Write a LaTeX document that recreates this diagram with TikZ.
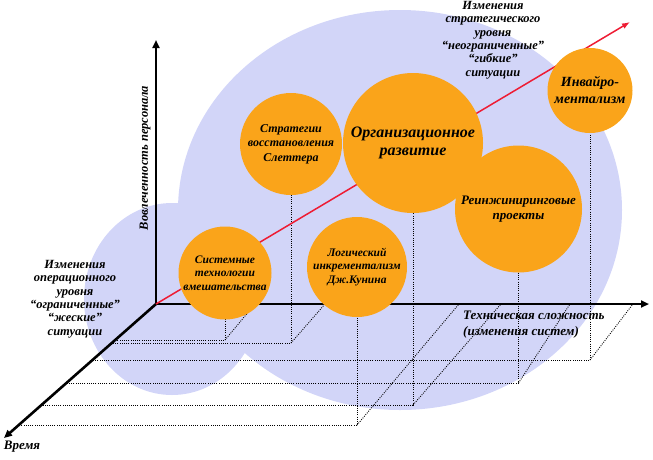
\documentclass[tikz,border=0pt]{standalone}
\usepackage{fontspec}
\setmainfont{Liberation Serif}
\usetikzlibrary{arrows.meta}
\definecolor{blobblue}{RGB}{210,213,248}
\definecolor{stageorange}{RGB}{250,164,26}
\definecolor{trendred}{RGB}{238,28,52}

\begin{document}
\begin{tikzpicture}[x=1pt, y=-1pt,
  blob/.style={fill=blobblue, draw=none},
  stage/.style={circle, fill=stageorange, draw=none, inner sep=0pt, align=center,
                font=\bfseries\itshape\fontsize{11.5}{13.6}\selectfont},
  lbl/.style={inner sep=0pt, align=center, font=\bfseries\itshape\fontsize{12.5}{13.4}\selectfont},
  axis/.style={line width=2.6pt, -{Triangle[length=8pt,width=7pt]}},
  trend/.style={line width=1.5pt, trendred, -{Latex[length=8pt,width=6pt]}},
  proj/.style={line width=0.9pt, dash pattern=on 0.9pt off 1.3pt}
]
  \useasboundingbox (0,0) rectangle (653,459);

  % background clouds
  \fill[blob] (400,210) ellipse [x radius=222, y radius=200];
  \fill[blob] (172,299) ellipse [x radius=88, y radius=96];

  % axes
  \coordinate (O)    at (156,304);
  \coordinate (ytip) at (156,40);
  \coordinate (xtip) at (649,304);
  \coordinate (ttip) at (4,438);
  \coordinate (rtip) at (630,22);

  % circle centres
  \coordinate (sysC)   at (225,273);
  \coordinate (sletC)  at (291,144);
  \coordinate (orgC)   at (413,143);
  \coordinate (kunC)   at (357,267);
  \coordinate (reengC) at (518.5,209);
  \coordinate (envC)   at (590,90.5);

  % floor points, time axis points, x axis points
  \coordinate (sysF)   at (225,340);   \coordinate (sysT)   at (115,340);  \coordinate (sysA)   at (255,304);
  \coordinate (sletF)  at (291,343);   \coordinate (sletT)  at (112,343);  \coordinate (sletA)  at (325,304);
  \coordinate (kunF)   at (357,425);   \coordinate (kunT)   at (19,425);   \coordinate (kunA)   at (459,304);
  \coordinate (orgF)   at (413,405);   \coordinate (orgT)   at (41,405);   \coordinate (orgA)   at (501,304);
  \coordinate (reengF) at (518.5,383); \coordinate (reengT) at (66,383);   \coordinate (reengA) at (570,304);
  \coordinate (envF)   at (590,360);   \coordinate (envT)   at (92,360);   \coordinate (envA)   at (633,304);

  \draw[proj] (sysC) -- (sysF) -- (sysT);       \draw[proj] (sysF) -- (sysA);
  \draw[proj] (sletC) -- (sletF) -- (sletT);    \draw[proj] (sletF) -- (sletA);
  \draw[proj] (kunC) -- (kunF) -- (kunT);       \draw[proj] (kunF) -- (kunA);
  \draw[proj] (orgC) -- (orgF) -- (orgT);       \draw[proj] (orgF) -- (orgA);
  \draw[proj] (reengC) -- (reengF) -- (reengT); \draw[proj] (reengF) -- (reengA);
  \draw[proj] (envC) -- (envF) -- (envT);       \draw[proj] (envF) -- (envA);

  \draw[axis] (O) -- (ytip);
  \draw[axis] (O) -- (xtip);
  \draw[axis] (O) -- (ttip);
  \draw[trend] (O) -- (rtip);

  % stages
  \node[stage, minimum size=93pt]  (sys)   at (sysC)   {Системные\\технологии\\вмешательства};
  \node[stage, minimum size=102pt, font=\bfseries\itshape\fontsize{12}{14.3}\selectfont]
       (slet)  at (sletC)  {Стратегии\\восстановления\\Слеттера};
  \node[stage, minimum size=140pt, font=\bfseries\itshape\fontsize{16}{18}\selectfont]
       (org)   at (orgC)   {Организационное\\развитие};
  \node[stage, minimum size=100pt, font=\bfseries\itshape\fontsize{11.5}{13.3}\selectfont]
       (kun)   at (kunC)   {Логический\\инкрементализм\\Дж.Кунина};
  \node[stage, minimum size=127pt, font=\bfseries\itshape\fontsize{13}{15}\selectfont]
       (reeng) at (reengC) {Реинжиниринговые\\проекты};
  \node[stage, minimum size=85pt, font=\bfseries\itshape\fontsize{14}{17}\selectfont]
       (env)   at (envC)   {Инвайро-\\ментализм};

  % labels
  \node[lbl, rotate=90] (ylab) at (145,158) {Вовлеченность персонала};
  \node[lbl] (oper)  at (75,299) {Изменения\\операционного\\уровня\\“ограниченные”\\“жеские”\\ситуации};
  \node[lbl] (strat) at (493,40) {Изменения\\стратегического\\уровня\\“неограниченные”\\“гибкие”\\ситуации};
  \node[lbl, anchor=west, align=left, font=\bfseries\itshape\fontsize{13}{15.5}\selectfont]
       (tech) at (463,324.5) {Техническая сложность\\(изменения систем)};
  \node[lbl, font=\bfseries\itshape\fontsize{13}{15}\selectfont] (time) at (22,447) {Время};
\end{tikzpicture}
\end{document}
